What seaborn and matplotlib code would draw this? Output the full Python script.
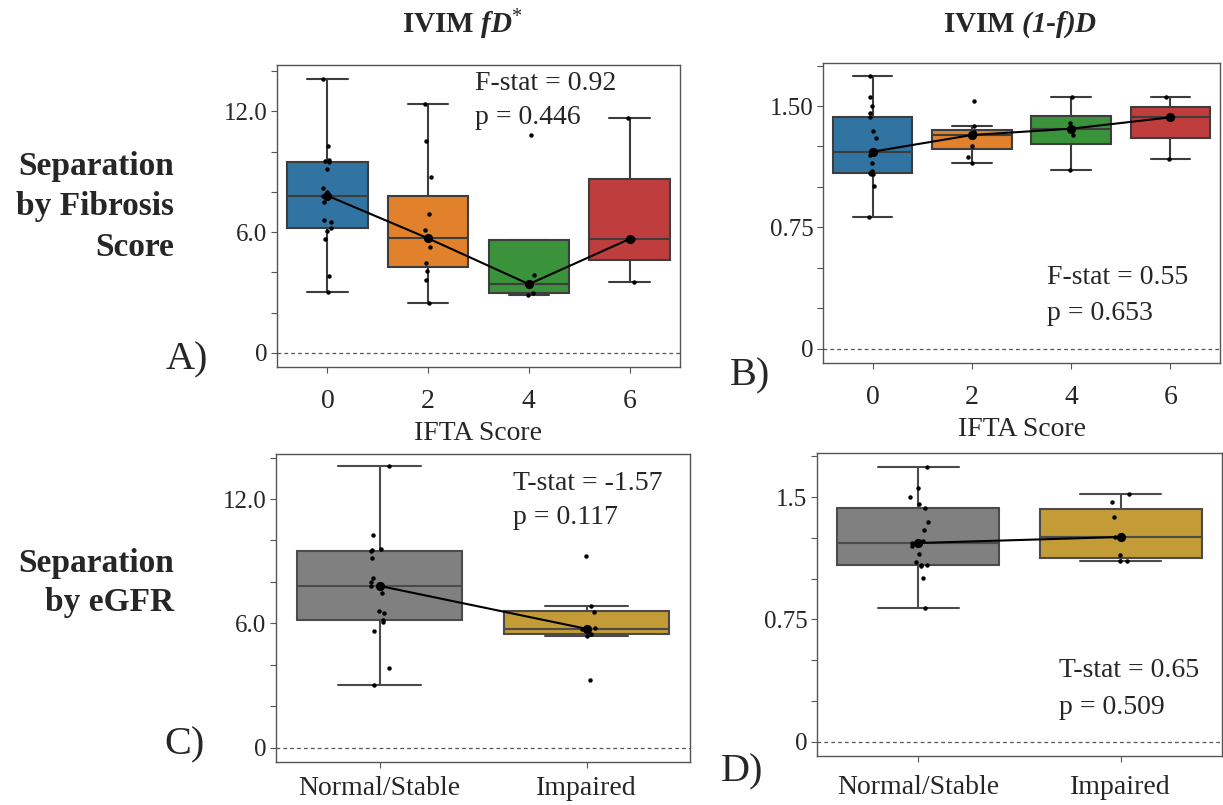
import numpy as np
import pandas as pd
import matplotlib
matplotlib.use("Agg")
import matplotlib.pyplot as plt
import seaborn as sns
from matplotlib.ticker import FixedLocator, FixedFormatter

# ---------------- data ----------------
ifta_cats = ["0", "2", "4", "6"]
egfr_cats = ["Normal/Stable", "Impaired"]

fdstar_ifta0 = [3.02, 3.83, 5.66, 6.05, 6.19, 6.49, 6.6, 7.48, 7.81, 8.0, 8.18, 9.14, 9.47, 9.55, 9.6, 10.28, 13.6]
fdstar_ifta2 = [2.47, 3.62, 4.05, 4.45, 5.27, 5.69, 6.09, 6.9, 8.72, 10.53, 12.37]
fdstar_ifta4 = [2.88, 2.98, 3.85, 10.83]
fdstar_ifta6 = [3.53, 5.66, 11.66]

fd1_ifta0 = [0.817, 1.005, 1.08, 1.082, 1.085, 1.1, 1.15, 1.2, 1.218, 1.23, 1.30, 1.347, 1.43, 1.455, 1.5, 1.556, 1.685]
fd1_ifta2 = [1.146, 1.185, 1.25, 1.31, 1.332, 1.34, 1.376, 1.533]
fd1_ifta4 = [1.104, 1.323, 1.397, 1.555]
fd1_ifta6 = [1.172, 1.43, 1.554]

fdstar_normal = [3.02, 3.83, 5.66, 6.05, 6.19, 6.49, 6.6, 7.48, 7.81, 8.0, 8.18, 9.14, 9.47, 9.55, 9.6, 10.28, 13.6]
fdstar_impaired = [3.25, 5.41, 5.49, 5.72, 5.76, 6.55, 6.82, 9.25]
fd1_normal = [0.817, 1.005, 1.08, 1.082, 1.085, 1.1, 1.15, 1.2, 1.218, 1.23, 1.30, 1.347, 1.43, 1.455, 1.5, 1.556, 1.685]
fd1_impaired = [1.105, 1.109, 1.143, 1.255, 1.38, 1.47, 1.519]

stats_text = {
    "A": ("F-stat = 0.92", "p = 0.446"),
    "B": ("F-stat = 0.55", "p = 0.653"),
    "C": ("T-stat = -1.57", "p = 0.117"),
    "D": ("T-stat = 0.65", "p = 0.509"),
}

fd_ticks = [0, 2, 4, 6, 8, 10, 12, 14]
fd_ticklabels = ["0", "", "", "6.0", "", "", "12.0", ""]
d_ticks = [0, 0.25, 0.5, 0.75, 1.0, 1.25, 1.5, 1.75]
b_ticklabels = ["0", "", "", "0.75", "", "", "1.50", ""]
dd_ticklabels = ["0", "", "", "0.75", "", "", "1.5", ""]

ifta_palette = ["#1f77b4", "#ff7f0e", "#2ca02c", "#d62728"]
egfr_palette = ["gray", "goldenrod"]


def make_df(cats, groups):
    rows = []
    for c, vals in zip(cats, groups):
        for v in vals:
            rows.append((c, v))
    return pd.DataFrame(rows, columns=["cat", "val"])


df_A = make_df(ifta_cats, [fdstar_ifta0, fdstar_ifta2, fdstar_ifta4, fdstar_ifta6])
df_B = make_df(ifta_cats, [fd1_ifta0, fd1_ifta2, fd1_ifta4, fd1_ifta6])
df_C = make_df(egfr_cats, [fdstar_normal, fdstar_impaired])
df_D = make_df(egfr_cats, [fd1_normal, fd1_impaired])

# ---------------- style ----------------
sns.set_style("white")
plt.rcParams["font.family"] = ["Liberation Serif", "DejaVu Serif"]
plt.rcParams["mathtext.fontset"] = "custom"
plt.rcParams["mathtext.rm"] = "Liberation Serif"
plt.rcParams["mathtext.it"] = "Liberation Serif:italic"
plt.rcParams["mathtext.bf"] = "Liberation Serif:bold"
plt.rcParams["mathtext.bfit"] = "Liberation Serif:italic:bold"

W, H = 1223, 805
fig = plt.figure(figsize=(W / 100, H / 100), dpi=100)


def rect(l, r, t, b):
    return [l / W, 1 - b / H, (r - l) / W, (b - t) / H]


def fxy(x, y):
    return x / W, 1 - y / H


np.random.seed(3)


def panel(r, df, cats, palette, ylim, yticks, yticklabels, xlabel, xpad):
    ax = fig.add_axes(r)
    ax.axhline(0, ls=(0, (3, 2.5)), lw=0.9, color="#555555", zorder=0)
    sns.boxplot(data=df, x="cat", y="val", hue="cat", order=cats, hue_order=cats,
                palette=palette, width=0.8, showfliers=False, linewidth=1.5,
                legend=False, ax=ax)
    sns.stripplot(data=df, x="cat", y="val", order=cats, color="black", size=3.2,
                  jitter=0.05, ax=ax, zorder=3)
    sns.pointplot(data=df, x="cat", y="val", order=cats, estimator="median",
                  errorbar=None, color="black", markersize=5.5, linewidth=1.5,
                  ax=ax, zorder=4)
    ax.set_xlim(-0.5, len(cats) - 0.5)
    ax.set_ylim(*ylim)
    ax.yaxis.set_major_locator(FixedLocator(yticks))
    ax.yaxis.set_major_formatter(FixedFormatter(yticklabels))
    ax.set_ylabel("")
    ax.set_xlabel(xlabel, fontsize=20, labelpad=5)
    ax.tick_params(axis="y", labelsize=18, length=4, width=0.8, color="#555555", pad=3, left=True)
    ax.tick_params(axis="x", labelsize=20, length=4, width=0.8, color="#555555", pad=xpad, bottom=True)
    for s in ax.spines.values():
        s.set_color("#555555")
        s.set_linewidth(1.0)
    return ax


axA = panel(rect(277, 680, 65, 367), df_A, ifta_cats, ifta_palette, (-0.7, 14.3),
            fd_ticks, fd_ticklabels, "IFTA Score", 12)
axB = panel(rect(823, 1220, 63, 363), df_B, ifta_cats, ifta_palette, (-0.088, 1.766),
            d_ticks, b_ticklabels, "IFTA Score", 12)
axC = panel(rect(276, 690, 454, 762), df_C, egfr_cats, egfr_palette, (-0.68, 14.17),
            fd_ticks, fd_ticklabels, "", 6)
axD = panel(rect(817, 1222, 453, 756), df_D, egfr_cats, egfr_palette, (-0.088, 1.77),
            d_ticks, dd_ticklabels, "", 10)

# ---------------- annotations ----------------
fs_stat = 20
for key, (x, y1, y2) in {"A": (475, 83, 117), "B": (1047, 278, 313),
                          "C": (513, 483, 517), "D": (1059, 670, 707)}.items():
    l1, l2 = stats_text[key]
    fig.text(*fxy(x, y1), l1, fontsize=fs_stat, ha="left", va="center")
    fig.text(*fxy(x, y2), l2, fontsize=fs_stat, ha="left", va="center")

fig.text(*fxy(462, 25), r"IVIM $\mathbfit{fD}^{*}$", fontsize=21, fontweight="bold",
         ha="center", va="center")
fig.text(*fxy(1020, 25), r"IVIM $\mathbfit{(1}$-$\mathbfit{f)D}$", fontsize=21,
         fontweight="bold", ha="center", va="center")

for txt, y in [("Separation", 167), ("by Fibrosis", 207), ("Score", 247)]:
    fig.text(*fxy(174, y), txt, fontsize=24, fontweight="bold", ha="right", va="center")
for txt, y in [("Separation", 563), ("by eGFR", 602)]:
    fig.text(*fxy(174, y), txt, fontsize=24, fontweight="bold", ha="right", va="center")

for txt, x, y in [("A)", 187, 360), ("B)", 750, 376), ("C)", 184, 745), ("D)", 742, 772)]:
    fig.text(*fxy(x, y), txt, fontsize=29, ha="center", va="center")

fig.savefig("out.png", dpi=100)
